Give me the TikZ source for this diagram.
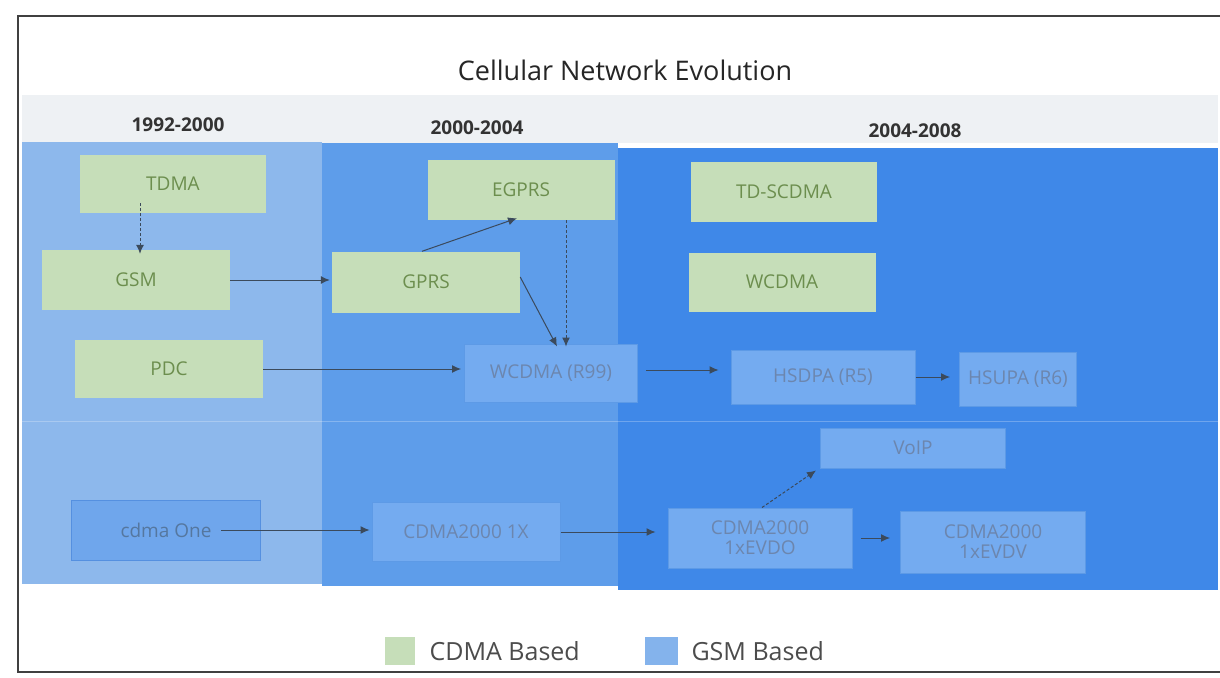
\documentclass[tikz,border=0pt]{standalone}
\usepackage{fontspec}
\setmainfont{Open Sans}
\usetikzlibrary{arrows.meta}
\definecolor{colA}{HTML}{8DB8EC}
\definecolor{colB}{HTML}{5E9DEA}
\definecolor{colC}{HTML}{3F88E8}
\definecolor{band}{HTML}{EEF1F4}
\definecolor{gfill}{HTML}{C6DEB9}
\definecolor{gtext}{HTML}{6C8E4E}
\definecolor{bfill}{HTML}{74ABF0}
\definecolor{bdraw}{HTML}{5D9AE6}
\definecolor{btext}{HTML}{6C86AE}
\definecolor{cfill}{HTML}{6FA6EC}
\definecolor{cdraw}{HTML}{5590E0}
\definecolor{ctext}{HTML}{55779F}
\definecolor{arr}{HTML}{3B4A5C}
\begin{document}
\begin{tikzpicture}[x=1pt,y=-1pt,
  gbox/.style={fill=gfill,text=gtext,inner sep=0pt,font=\fontsize{19}{20}\selectfont},
  bbox/.style={fill=bfill,draw=bdraw,line width=1pt,text=btext,inner sep=0pt,align=center,font=\fontsize{19}{20}\selectfont},
  cbox/.style={fill=cfill,draw=cdraw,line width=1pt,text=ctext,inner sep=0pt,font=\fontsize{19}{20}\selectfont},
  yr/.style={text=black!80,font=\fontsize{19}{21}\selectfont\bfseries},
  conn/.style={draw=arr,line width=1pt,-{Latex[length=9pt,width=8pt]}},
  dconn/.style={conn,dashed,dash pattern=on 3pt off 2pt},
  leg/.style={text=black!70,font=\fontsize{25}{28}\selectfont}
]
\useasboundingbox (0,0) rectangle (1220,677);
\fill[white] (0,0) rectangle (1220,677);
% background bands
\fill[band] (22,95) rectangle (1218,143);
\fill[colA] (22,142) rectangle (322,584);
\fill[colB] (322,143) rectangle (618,586);
\fill[colC] (618,148) rectangle (1218,590);
\draw[white,opacity=0.25,line width=1pt] (22,421) -- (1218,421);
% frame
\draw[black!75,line width=1.3pt] (1220,16) -- (18,16) -- (18,672) -- (1220,672);
% title and years
\node[text=black!85,font=\fontsize{27}{30}\selectfont] (title) at (625,70) {Cellular Network Evolution};
\node[yr] (y1) at (178,125) {1992-2000};
\node[yr] (y2) at (477,128) {2000-2004};
\node[yr] (y3) at (915,131) {2004-2008};
% column 1
\node[gbox,minimum width=186pt,minimum height=58pt] (tdma) at (173,184) {TDMA};
\node[gbox,minimum width=188pt,minimum height=60pt] (gsm) at (136,280) {GSM};
\node[gbox,minimum width=188pt,minimum height=58pt] (pdc) at (169,369) {PDC};
\node[cbox,minimum width=189pt,minimum height=60pt] (cdma) at (166,530) {cdma One};
% column 2
\node[gbox,minimum width=187pt,minimum height=60pt] (egprs) at (521,190) {EGPRS};
\node[gbox,minimum width=188pt,minimum height=61pt] (gprs) at (426,282) {GPRS};
\node[bbox,minimum width=173pt,minimum height=58pt] (wcdr) at (551,373) {WCDMA (R99)};
\node[bbox,minimum width=188pt,minimum height=59pt] (c1x) at (466,532) {CDMA2000 1X};
% column 3
\node[gbox,minimum width=186pt,minimum height=60pt] (tds) at (784,192) {TD-SCDMA};
\node[gbox,minimum width=187pt,minimum height=59pt] (wcdma) at (782,282) {WCDMA};
\node[bbox,minimum width=184pt,minimum height=54pt] (hsdpa) at (823,377) {HSDPA (R5)};
\node[bbox,minimum width=117pt,minimum height=54pt] (hsupa) at (1018,379) {HSUPA (R6)};
\node[bbox,minimum width=185pt,minimum height=40pt] (voip) at (913,448) {VoIP};
\node[bbox,minimum width=184pt,minimum height=60pt] (evdo) at (760,538) {CDMA2000\\1xEVDO};
\node[bbox,minimum width=185pt,minimum height=62pt] (evdv) at (993,542) {CDMA2000\\1xEVDV};
% legend
\node[fill=gfill,minimum width=30pt,minimum height=28pt,inner sep=0pt] (lg) at (400,651) {};
\node[leg,anchor=west] (lgt) at (426,651) {CDMA Based};
\node[fill=colA!80!colB,minimum width=33pt,minimum height=28pt,inner sep=0pt] (lb) at (661,651) {};
\node[leg,anchor=west] (lbt) at (688,651) {GSM Based};
% connectors
\draw[dconn] ([xshift=-33pt,yshift=10pt]tdma.south) -- ([xshift=4pt,yshift=-4pt]gsm.north);
\draw[conn] (gsm.east) -- ([xshift=-2pt]gsm.east -| gprs.west);
\draw[conn] ([xshift=-4pt]gprs.north) -- ([xshift=-4pt,yshift=2pt]egprs.south);
\draw[conn] ([yshift=5pt]gprs.east) -- ([xshift=6pt,yshift=-3pt]wcdr.north);
\draw[dconn] ([xshift=45pt]egprs.south) -- ([xshift=15pt,yshift=-3pt]wcdr.north);
\draw[conn] (pdc.east) -- ([xshift=-3pt]pdc.east -| wcdr.west);
\draw[conn] ([xshift=8pt,yshift=3pt]wcdr.east) -- ([xshift=-12pt,yshift=3pt]wcdr.east -| hsdpa.west);
\draw[conn] (hsdpa.east) -- ([xshift=-9pt]hsdpa.east -| hsupa.west);
\draw[conn] ([xshift=-40pt]cdma.east) -- ([xshift=-2pt]cdma.east -| c1x.west);
\draw[conn] (c1x.east) -- ([xshift=-12pt]c1x.east -| evdo.west);
\draw[conn] ([xshift=8pt]evdo.east) -- ([xshift=-10pt]evdo.east -| evdv.west);
\draw[dconn] ([xshift=2pt]evdo.north) -- ([xshift=-4pt,yshift=-2pt]voip.south west);
\end{tikzpicture}
\end{document}
